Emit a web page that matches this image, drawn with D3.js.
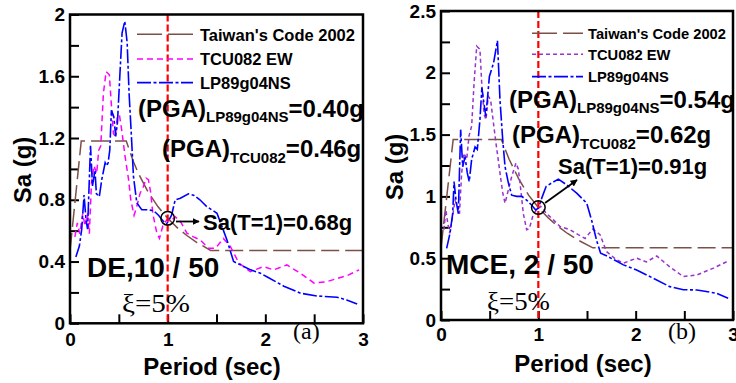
<!DOCTYPE html>
<html><head><meta charset="utf-8">
<script src="https://cdn.jsdelivr.net/npm/d3@7"></script>
<style>
html,body{margin:0;padding:0;background:#fff;}
svg{display:block;}
text{font-family:"Liberation Sans",Arial,sans-serif;font-weight:bold;fill:#000;}
.serif{font-family:"Liberation Serif","Times New Roman",serif;font-weight:normal;}
</style></head>
<body>
<svg id="chart" width="736" height="383"></svg>
<script>
// ---------------- DATA ----------------
const seriesNames = ["Taiwan's Code 2002", "TCU082 EW", "LP89g04NS"];
const xTickLabels = ["0", "1", "2", "3"];
const xTickValues = [0, 0.5, 1, 1.5, 2, 2.5, 3];
const deYTickLabels = ["0", "0.4", "0.8", "1.2", "1.6", "2"];
const deYTickValues = [0, 0.2, 0.4, 0.6, 0.8, 1.0, 1.2, 1.4, 1.6, 1.8, 2.0];
const mceYTickLabels = ["0", "0.5", "1", "1.5", "2", "2.5"];
const mceYTickValues = [0, 0.25, 0.5, 0.75, 1.0, 1.25, 1.5, 1.75, 2.0, 2.25, 2.5];

// (a) DE, 10/50  — [period (s), Sa (g)]
const deCode = [[0,0.47],[0.115,1.18],[0.576,1.18],[0.65,1.046],[0.7,0.971],[0.8,0.85],[0.9,0.756],[1.0,0.68],[1.1,0.618],[1.2,0.567],[1.3,0.523],[1.44,0.472],[3,0.472]];
const deTCU = [[0.05,0.56],[0.075,0.65],[0.10,0.58],[0.13,0.71],[0.154,0.63],[0.178,0.71],[0.198,0.58],[0.22,0.91],[0.246,1.02],[0.273,0.97],[0.294,1.12],[0.315,1.15],[0.342,1.49],[0.37,1.63],[0.403,1.61],[0.42,1.45],[0.444,1.23],[0.465,1.21],[0.485,1.34],[0.506,1.35],[0.53,1.25],[0.564,1.08],[0.60,0.93],[0.622,0.80],[0.656,0.70],[0.684,0.757],[0.718,0.843],[0.752,0.886],[0.78,0.94],[0.803,0.93],[0.827,0.843],[0.848,0.71],[0.889,0.584],[0.916,0.55],[0.95,0.63],[0.99,0.67],[1.026,0.66],[1.077,0.69],[1.13,0.66],[1.197,0.584],[1.265,0.56],[1.333,0.54],[1.42,0.486],[1.49,0.486],[1.57,0.55],[1.64,0.50],[1.73,0.39],[1.846,0.335],[1.98,0.367],[2.085,0.346],[2.22,0.378],[2.36,0.324],[2.50,0.26],[2.63,0.27],[2.84,0.31],[2.96,0.346]];
const deLP = [[0.06,0.43],[0.096,0.50],[0.12,0.61],[0.144,0.83],[0.164,0.67],[0.18,0.61],[0.21,1.15],[0.23,0.89],[0.256,0.99],[0.27,0.84],[0.30,0.82],[0.325,0.93],[0.36,1.04],[0.376,1.02],[0.39,1.04],[0.407,1.12],[0.424,1.38],[0.448,1.34],[0.468,1.21],[0.486,1.30],[0.51,1.60],[0.533,1.88],[0.561,1.956],[0.585,1.82],[0.605,1.49],[0.629,1.21],[0.65,0.95],[0.684,0.78],[0.735,0.735],[0.786,0.735],[0.855,0.73],[0.906,0.70],[0.957,0.66],[0.99,0.645],[1.015,0.67],[1.04,0.70],[1.077,0.80],[1.13,0.81],[1.213,0.838],[1.265,0.83],[1.33,0.80],[1.40,0.756],[1.505,0.713],[1.607,0.54],[1.675,0.40],[1.85,0.346],[1.95,0.324],[2.02,0.30],[2.19,0.24],[2.36,0.195],[2.53,0.177],[2.735,0.169],[2.84,0.15],[2.94,0.125]];

// (b) MCE, 2/50
const mceCode = [[0,0.584],[0.125,1.46],[0.62,1.46],[0.7,1.30],[0.8,1.14],[0.9,1.01],[1.0,0.91],[1.1,0.827],[1.2,0.758],[1.3,0.70],[1.4,0.65],[1.56,0.584],[3,0.584]];
const mceTCU = [[0.03,0.73],[0.05,0.89],[0.07,0.78],[0.09,0.70],[0.12,0.84],[0.144,0.97],[0.168,0.92],[0.19,0.86],[0.212,1.19],[0.236,1.35],[0.264,1.30],[0.288,1.49],[0.315,1.57],[0.34,1.92],[0.367,2.215],[0.40,2.19],[0.418,1.92],[0.442,1.67],[0.462,1.62],[0.486,1.81],[0.51,1.78],[0.53,1.65],[0.565,1.43],[0.606,1.19],[0.634,1.03],[0.658,0.945],[0.685,1.03],[0.726,1.16],[0.77,1.27],[0.795,1.22],[0.82,1.05],[0.846,0.86],[0.88,0.73],[0.908,0.74],[0.95,0.86],[0.983,0.89],[1.024,0.92],[1.086,0.86],[1.155,0.81],[1.223,0.756],[1.326,0.73],[1.41,0.69],[1.48,0.66],[1.56,0.735],[1.634,0.69],[1.70,0.554],[1.805,0.486],[1.874,0.46],[2.01,0.50],[2.11,0.47],[2.217,0.518],[2.35,0.43],[2.49,0.351],[2.63,0.365],[2.80,0.42],[2.936,0.472]];
const mceLP = [[0.058,0.58],[0.092,0.70],[0.12,0.86],[0.134,1.12],[0.154,0.97],[0.178,0.86],[0.202,1.54],[0.223,1.24],[0.247,1.32],[0.27,1.19],[0.29,1.12],[0.315,1.30],[0.35,1.40],[0.373,1.38],[0.40,1.62],[0.42,1.88],[0.44,1.76],[0.46,1.65],[0.476,1.78],[0.497,1.97],[0.54,2.08],[0.58,2.26],[0.606,1.78],[0.634,1.46],[0.658,1.24],[0.692,1.11],[0.726,1.01],[0.778,1.00],[0.83,1.00],[0.88,0.97],[0.93,0.93],[0.973,0.89],[1.0,0.905],[1.035,0.986],[1.08,1.08],[1.14,1.11],[1.206,1.14],[1.29,1.094],[1.394,1.026],[1.497,0.945],[1.55,0.80],[1.60,0.64],[1.64,0.54],[1.70,0.52],[1.874,0.446],[2.01,0.405],[2.18,0.338],[2.35,0.27],[2.49,0.245],[2.63,0.243],[2.83,0.216],[2.95,0.176]];

// annotation values
const deNotes = {pgaLP:"=0.40g", pgaTCU:"=0.46g", saT1:0.68, label:"DE,10 / 50", tag:"(a)"};
const mceNotes = {pgaLP:"=0.54g", pgaTCU:"=0.62g", saT1:0.91, label:"MCE, 2 / 50", tag:"(b)"};

// ---------------- DRAW ----------------
const svg = d3.select("#chart");
const defs = svg.append("defs");
defs.append("marker").attr("id","arrow").attr("viewBox","0 0 10 10").attr("refX",9).attr("refY",5)
  .attr("markerWidth",7).attr("markerHeight",7).attr("orient","auto-start-reverse")
  .attr("markerUnits","userSpaceOnUse")
  .append("path").attr("d","M0,0 L10,5 L0,10 z").attr("fill","#000");

const codeColor = "#7b5049";
const blue = "#0000ff";

function panel(o){
  const g = svg.append("g");
  const x = d3.scaleLinear().domain([0,3]).range([o.left, o.right]);
  const y = d3.scaleLinear().domain([0,o.yMax]).range([o.bottom, o.top]);
  const clipId = "clip"+o.id;
  defs.append("clipPath").attr("id",clipId).append("rect")
    .attr("x",o.left).attr("y",o.top).attr("width",o.right-o.left).attr("height",o.bottom-o.top);

  // y axis
  const ya = d3.axisLeft(y).tickValues(o.yTickValues).tickSizeInner(-9).tickSizeOuter(0).tickPadding(5)
    .tickFormat((d,i)=> i%2===0 ? o.yTickLabels[i/2] : "");
  const yg = g.append("g").attr("transform",`translate(${o.left},0)`).call(ya);
  yg.select(".domain").remove();
  yg.selectAll(".tick line").attr("stroke","#000").attr("stroke-width",2);
  yg.selectAll(".tick text").style("font-size","19px").style("font-family","'Liberation Sans',Arial,sans-serif").style("font-weight","bold").attr("fill","#000");

  // x axis
  const xa = d3.axisBottom(x).tickValues(xTickValues).tickSizeInner(-9).tickSizeOuter(0).tickPadding(o.xPad)
    .tickFormat((d,i)=> i%2===0 ? xTickLabels[i/2] : "");
  const xg = g.append("g").attr("transform",`translate(0,${o.bottom})`).call(xa);
  xg.select(".domain").remove();
  xg.selectAll(".tick line").attr("stroke","#000").attr("stroke-width",2);
  xg.selectAll(".tick text").style("font-size","19px").style("font-family","'Liberation Sans',Arial,sans-serif").style("font-weight","bold").attr("fill","#000");

  // series
  const line = d3.line().x(d=>x(d[0])).y(d=>y(d[1]));
  const pg = g.append("g").attr("clip-path",`url(#${clipId})`);
  pg.append("path").datum(o.code).attr("d",line).attr("fill","none").attr("stroke",codeColor).attr("stroke-width",1.5).attr("stroke-dasharray","18,6");
  pg.append("path").datum(o.tcu).attr("d",line).attr("fill","none").attr("stroke",o.tcuColor).attr("stroke-width",1.5).attr("stroke-dasharray",o.tcuDash);
  pg.append("path").datum(o.lp).attr("d",line).attr("fill","none").attr("stroke",blue).attr("stroke-width",1.6).attr("stroke-dasharray","14,2.5,3,2.5");

  // red T=1 line
  g.append("line").attr("x1",x(1)).attr("x2",x(1)).attr("y1",o.top).attr("y2",o.bottom)
    .attr("stroke","#ff0000").attr("stroke-width",2.2).attr("stroke-dasharray","7,3");

  // frame
  g.append("rect").attr("x",o.left).attr("y",o.top).attr("width",o.right-o.left).attr("height",o.bottom-o.top)
    .attr("fill","none").attr("stroke","#000").attr("stroke-width",2.5);

  // legend
  const lg = [
    {c:codeColor, dash:"25,6", w:1.6},
    {c:o.tcuColor, dash:o.tcuDash, w:1.6},
    {c:blue, dash:"14,2.5,3,2.5", w:1.8}
  ];
  lg.forEach((s,i)=>{
    g.append("line").attr("x1",o.legX1).attr("x2",o.legX2).attr("y1",o.legY[i]).attr("y2",o.legY[i])
      .attr("stroke",s.c).attr("stroke-width",s.w).attr("stroke-dasharray",s.dash);
    g.append("text").attr("x",o.legTX).attr("y",o.legTY[i]).style("font-size",o.legFont+"px").text(seriesNames[i]);
  });

  // PGA annotations
  const t1 = g.append("text").attr("x",o.pga1[0]).attr("y",o.pga1[1]).style("font-size","24px");
  t1.append("tspan").text("(PGA)");
  t1.append("tspan").attr("dy",5).style("font-size","15px").text("LP89g04NS");
  t1.append("tspan").attr("dy",-5).text(o.notes.pgaLP);
  const t2 = g.append("text").attr("x",o.pga2[0]).attr("y",o.pga2[1]).style("font-size","24px");
  t2.append("tspan").text("(PGA)");
  t2.append("tspan").attr("dy",6).style("font-size","15px").text("TCU082");
  t2.append("tspan").attr("dy",-6).text(o.notes.pgaTCU);

  // Sa(T=1)
  const cx = x(1), cy = y(o.notes.saT1);
  g.append("circle").attr("cx",cx).attr("cy",cy).attr("r",6.8).attr("fill","none").attr("stroke","#000").attr("stroke-width",1.5);
  g.append("line").attr("x1",o.arrow[0]).attr("y1",o.arrow[1]).attr("x2",o.arrow[2]).attr("y2",o.arrow[3])
    .attr("stroke","#000").attr("stroke-width",1.8).attr("marker-end","url(#arrow)");
  g.append("text").attr("x",o.saPos[0]).attr("y",o.saPos[1]).style("font-size","22px").text("Sa(T=1)="+o.notes.saT1.toFixed(2)+"g");

  // big label
  g.append("text").attr("x",o.bigPos[0]).attr("y",o.bigPos[1]).style("font-size","28px").text(o.notes.label);
  // damping
  g.append("text").attr("class","serif").attr("x",o.xiPos[0]).attr("y",o.xiPos[1]).style("font-size","25px")
    .attr("textLength",o.xiPos[2]).attr("lengthAdjust","spacingAndGlyphs").text("ξ=5%");
  // tag
  g.append("text").attr("class","serif").attr("x",o.tagPos[0]).attr("y",o.tagPos[1]).style("font-size","24px").text(o.notes.tag);

  // axis titles
  g.append("text").attr("transform",`translate(${o.yTitle[0]},${o.yTitle[1]}) rotate(-90)`).attr("text-anchor","middle")
    .style("font-size","24px").text("Sa (g)");
  g.append("text").attr("x",o.xTitle[0]).attr("y",o.xTitle[1]).attr("text-anchor","middle")
    .style("font-size","24px").text("Period (sec)");
}

panel({id:"a", left:70, right:363, top:14.5, bottom:323.3, yMax:2,
  yTickValues:deYTickValues, yTickLabels:deYTickLabels, xPad:9,
  code:deCode, tcu:deTCU, lp:deLP, tcuColor:"#ff00ff", tcuDash:"6,4",
  legX1:137, legX2:193, legY:[34.3,59,82.7], legTX:200, legTY:[41,65,89], legFont:16.5,
  pga1:[138,117], pga2:[162,157], notes:deNotes,
  arrow:[176,221.5,199,221.5], saPos:[203,229.5],
  bigPos:[87,277], xiPos:[122,312,68], tagPos:[293,339],
  yTitle:[31,170], xTitle:[212,375]});

panel({id:"b", left:441, right:733, top:11, bottom:320, yMax:2.5,
  yTickValues:mceYTickValues, yTickLabels:mceYTickLabels, xPad:8,
  code:mceCode, tcu:mceTCU, lp:mceLP, tcuColor:"#9933cc", tcuDash:"4,3",
  legX1:532, legX2:583, legY:[33.3,54.3,76.7], legTX:588, legTY:[38.5,59.5,82], legFont:14.7,
  pga1:[509,107.5], pga2:[512,142.5], notes:mceNotes,
  arrow:[545,203,577,180], saPos:[558,174],
  bigPos:[446,273.5], xiPos:[487,310,63], tagPos:[668,339],
  yTitle:[403,167], xTitle:[583,372]});
</script>
</body></html>
